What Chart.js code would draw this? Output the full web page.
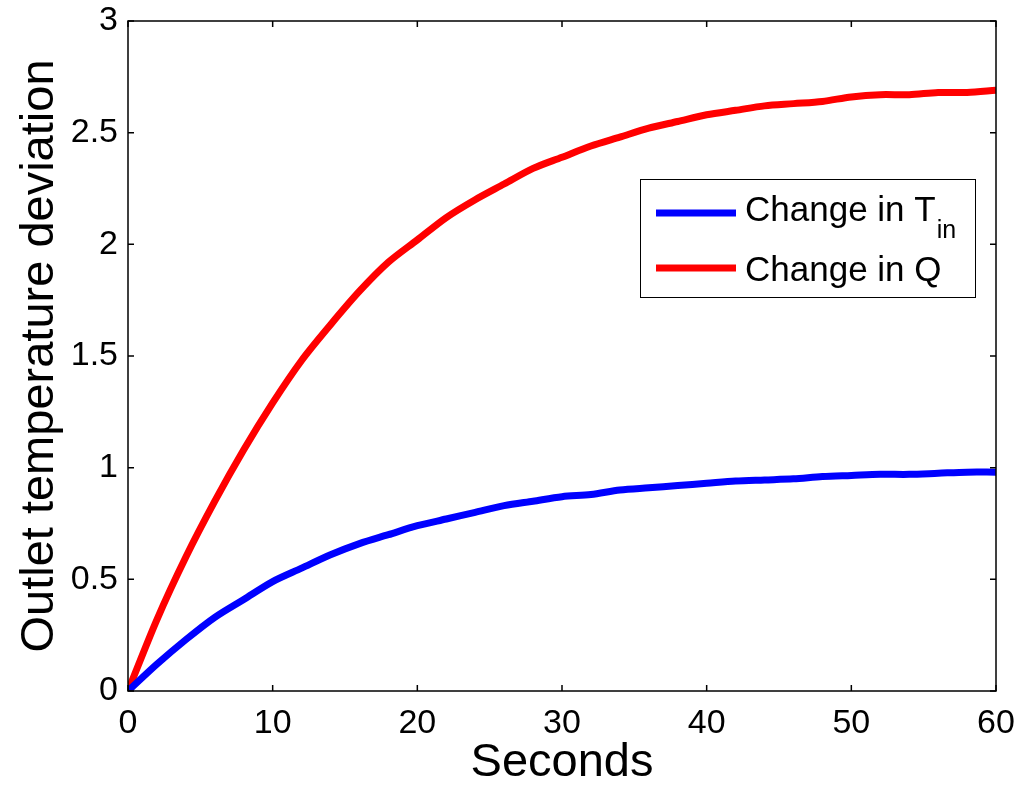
<!DOCTYPE html>
<html>
<head>
<meta charset="utf-8">
<script src="https://cdn.jsdelivr.net/npm/chart.js@4"></script>
<style>
  html, body { margin: 0; padding: 0; background: #fff; }
  #wrap { width: 1021px; height: 789px; }
</style>
</head>
<body>
<div id="wrap"><canvas id="mainChart"></canvas></div>
<script>
// time axis (seconds)
const seconds = [0, 2, 4, 6, 8, 10, 12, 14, 16, 18, 20, 22, 24, 26, 28, 30,
                 32, 34, 36, 38, 40, 42, 44, 46, 48, 50, 52, 54, 56, 58, 60];
const changeTin = [0, 0.12, 0.23, 0.33, 0.41, 0.49, 0.55, 0.61, 0.66, 0.70, 0.74,
                   0.77, 0.80, 0.83, 0.85, 0.87, 0.88, 0.90, 0.91, 0.92, 0.93,
                   0.94, 0.945, 0.95, 0.96, 0.965, 0.97, 0.97, 0.975, 0.98, 0.98];
const changeQ = [0, 0.32, 0.60, 0.85, 1.08, 1.29, 1.48, 1.64, 1.79, 1.92, 2.02,
                 2.12, 2.20, 2.27, 2.34, 2.39, 2.44, 2.48, 2.52, 2.55, 2.58,
                 2.60, 2.62, 2.63, 2.64, 2.66, 2.67, 2.67, 2.68, 2.68, 2.69];
const xTicks = [0, 10, 20, 30, 40, 50, 60];
const yTicks = [0, 0.5, 1, 1.5, 2, 2.5, 3];

const FONT = "'Liberation Sans', Arial, sans-serif";

const toPoints = (xs, ys) => xs.map((x, i) => ({ x: x, y: ys[i] }));

// inward ticks on all four sides, box, and the legend
const frame = {
    id: 'frame',
    afterDraw(chart) {
        const ctx = chart.ctx;
        const a = chart.chartArea;
        const xs = chart.scales.x, ys = chart.scales.y;
        const len = 6;
        ctx.save();
        ctx.strokeStyle = '#000';
        ctx.lineWidth = 1.5;
        ctx.strokeRect(a.left, a.top, a.right - a.left, a.bottom - a.top);
        ctx.beginPath();
        xTicks.forEach(v => {
            const px = xs.getPixelForValue(v);
            ctx.moveTo(px, a.bottom); ctx.lineTo(px, a.bottom - len);
            ctx.moveTo(px, a.top); ctx.lineTo(px, a.top + len);
        });
        yTicks.forEach(v => {
            const py = ys.getPixelForValue(v);
            ctx.moveTo(a.left, py); ctx.lineTo(a.left + len, py);
            ctx.moveTo(a.right, py); ctx.lineTo(a.right - len, py);
        });
        ctx.stroke();

        // legend
        const bx = 640, by = 179, bw = 335, bh = 118;
        ctx.fillStyle = '#fff';
        ctx.fillRect(bx, by, bw, bh);
        ctx.lineWidth = 1;
        ctx.strokeRect(bx + 0.5, by + 0.5, bw, bh);
        const ds = chart.data.datasets;
        const rows = [213, 268];
        ds.forEach((d, i) => {
            ctx.strokeStyle = d.borderColor;
            ctx.lineWidth = 7;
            ctx.beginPath();
            ctx.moveTo(656, rows[i]); ctx.lineTo(736, rows[i]);
            ctx.stroke();
        });
        ctx.fillStyle = '#000';
        ctx.textBaseline = 'middle';
        ctx.textAlign = 'left';
        ctx.font = '35px ' + FONT;
        ctx.fillText('Change in T', 745, 211);
        const w = ctx.measureText('Change in T').width;
        ctx.font = '25px ' + FONT;
        ctx.fillText('in', 745 + w + 1, 231);
        ctx.font = '35px ' + FONT;
        ctx.fillText('Change in Q', 745, 271);
        ctx.restore();
    }
};

const data = {
    datasets: [
        {
            label: 'Change in Tin',
            data: toPoints(seconds, changeTin),
            borderColor: '#0000ff',
            borderWidth: 7,
            pointRadius: 0,
            tension: 0.3,
            fill: false
        },
        {
            label: 'Change in Q',
            data: toPoints(seconds, changeQ),
            borderColor: '#ff0000',
            borderWidth: 7,
            pointRadius: 0,
            tension: 0.3,
            fill: false
        }
    ]
};

const config = {
    type: 'line',
    data: data,
    plugins: [frame],
    options: {
        responsive: true,
        maintainAspectRatio: false,
        animation: false,
        layout: { padding: { top: 21, right: 25, left: 0, bottom: 0 } },
        plugins: {
            legend: { display: false },
            tooltip: { enabled: false }
        },
        scales: {
            x: {
                type: 'linear',
                min: 0,
                max: 60,
                afterBuildTicks: s => { s.ticks = xTicks.map(v => ({ value: v })); },
                afterFit: s => { s.height = 98; s.paddingLeft = 0; s.paddingRight = 0; },
                grid: { display: false, drawTicks: false },
                border: { display: false },
                ticks: {
                    color: '#000',
                    padding: 12,
                    maxRotation: 0,
                    font: { family: FONT, size: 34 }
                },
                title: {
                    display: true,
                    text: 'Seconds',
                    color: '#000',
                    padding: { top: 0, bottom: 0 },
                    font: { family: FONT, size: 47, lineHeight: 1.1 }
                }
            },
            y: {
                type: 'linear',
                min: 0,
                max: 3,
                afterBuildTicks: s => { s.ticks = yTicks.map(v => ({ value: v })); },
                afterFit: s => { s.width = 128; s.paddingTop = 0; s.paddingBottom = 0; },
                grid: { display: false, drawTicks: false },
                border: { display: false },
                ticks: {
                    color: '#000',
                    padding: 10,
                    font: { family: FONT, size: 34 },
                    callback: v => String(v)
                },
                title: {
                    display: true,
                    text: 'Outlet temperature deviation',
                    color: '#000',
                    padding: { top: 14, bottom: 0 },
                    font: { family: FONT, size: 47, lineHeight: 1.1 }
                }
            }
        }
    }
};

const chart = new Chart(document.getElementById('mainChart').getContext('2d'), config);
</script>
</body>
</html>
